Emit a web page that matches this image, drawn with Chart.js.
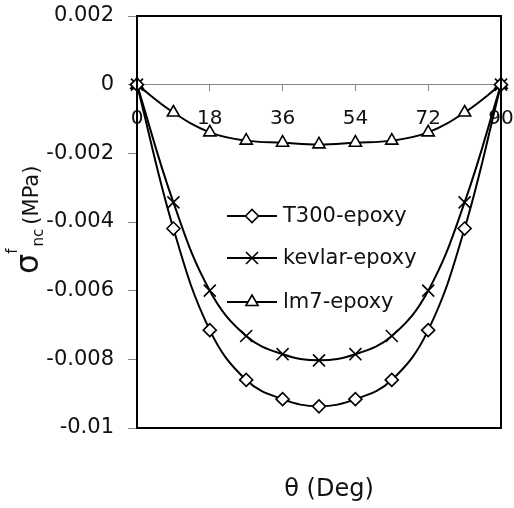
<!DOCTYPE html>
<html>
<head>
<meta charset="utf-8">
<script src="https://cdn.jsdelivr.net/npm/chart.js@4/dist/chart.umd.min.js"></script>
<style>
  html, body { margin: 0; padding: 0; background: #fff; }
  #wrap { width: 514px; height: 508px; }
</style>
</head>
<body>
<div id="wrap"><canvas id="c" width="514" height="508"></canvas></div>
<script>
// Fibre orientation angle (degrees)
const degrees = [0, 9, 18, 27, 36, 45, 54, 63, 72, 81, 90];
// Normal stress sigma^f_nc (MPa) for each composite
const t300Epoxy   = [0, -0.00419, -0.00715, -0.0086, -0.00916, -0.00937, -0.00916, -0.0086, -0.00715, -0.00419, 0];
const kevlarEpoxy = [0, -0.00343, -0.006, -0.00732, -0.00785, -0.00803, -0.00785, -0.00732, -0.006, -0.00343, 0];
const lm7Epoxy    = [0, -0.00081, -0.00139, -0.00163, -0.00169, -0.00174, -0.00169, -0.00163, -0.00139, -0.00081, 0];

const seriesNames = ['T300-epoxy', 'kevlar-epoxy', 'lm7-epoxy'];
const xTickValues = [0, 18, 36, 54, 72, 90];
const yTickValues = [-0.01, -0.008, -0.006, -0.004, -0.002, 0, 0.002];
const yTickLabels = ['-0.01', '-0.008', '-0.006', '-0.004', '-0.002', '0', '0.002'];

const FONT = "'DejaVu Sans', sans-serif";

function pairs(ys) { return degrees.map((d, i) => ({ x: d, y: ys[i] })); }

function series(label, ys, style, radius) {
  return {
    label, data: pairs(ys),
    borderColor: '#000', borderWidth: 2,
    backgroundColor: '#fff',
    pointStyle: style, pointRadius: radius, pointBorderWidth: 1.6,
    pointBackgroundColor: '#fff', pointBorderColor: '#000',
    tension: 0.4,
    clip: false, fill: false
  };
}

// Tick labels may overhang the frame; keep them from shrinking the plot
function noOverhang(s) {
  s.paddingLeft = 0; s.paddingRight = 0; s.paddingTop = 0; s.paddingBottom = 0;
}

// Black frame round the plotting area
const frame = {
  id: 'frame',
  afterDatasetsDraw(chart) {
    const { ctx, chartArea: a } = chart;
    ctx.save();
    ctx.strokeStyle = '#000';
    ctx.lineWidth = 2;
    ctx.strokeRect(a.left, a.top, a.right - a.left, a.bottom - a.top);
    ctx.restore();
  }
};

// Legend drawn inside the plot: short line with the marker on it, then the name
const insideLegend = {
  id: 'insideLegend',
  afterDraw(chart) {
    const { ctx, chartArea: a } = chart;
    const x0 = a.left + 90, x1 = a.left + 140, tx = a.left + 146;
    const rows = [a.top + 200, a.top + 242, a.top + 286];
    ctx.save();
    chart.data.datasets.forEach((ds, i) => {
      const y = rows[i];
      ctx.strokeStyle = '#000';
      ctx.lineWidth = 2;
      ctx.beginPath(); ctx.moveTo(x0, y); ctx.lineTo(x1, y); ctx.stroke();
      ctx.fillStyle = '#fff';
      ctx.lineWidth = ds.pointBorderWidth;
      Chart.helpers.drawPoint(ctx, { pointStyle: ds.pointStyle, radius: ds.pointRadius, rotation: 0, borderWidth: ds.pointBorderWidth }, (x0 + x1) / 2, y);
      ctx.fillStyle = '#111';
      ctx.font = '21px ' + FONT;
      ctx.textBaseline = 'middle';
      ctx.textAlign = 'left';
      ctx.fillText(ds.label, tx, y + 1);
    });
    ctx.restore();
  }
};

// Axis titles: x title under the chart, y title rotated with super/subscripts
const axisTitles = {
  id: 'axisTitles',
  afterDraw(chart) {
    const { ctx, chartArea: a } = chart;
    ctx.save();
    ctx.fillStyle = '#111';
    ctx.textAlign = 'center';
    ctx.textBaseline = 'middle';
    ctx.font = '24px ' + FONT;
    ctx.fillText('θ (Deg)', (a.left + a.right) / 2 + 10, 490);

    ctx.translate(38, 274);
    ctx.rotate(-Math.PI / 2);
    ctx.textAlign = 'left';
    ctx.textBaseline = 'alphabetic';
    let u = 0;
    ctx.font = '32px ' + FONT;
    ctx.fillText('σ', u, 0);
    u += ctx.measureText('σ').width;
    ctx.font = '15px ' + FONT;
    ctx.fillText('f', u, -21);
    u += ctx.measureText('f').width + 2;
    ctx.fillText('nc', u, 5);
    u += ctx.measureText('nc').width + 4;
    ctx.font = '21px ' + FONT;
    ctx.fillText('(MPa)', u, 0);
    ctx.restore();
  }
};

new Chart(document.getElementById('c'), {
  type: 'line',
  data: {
    datasets: [
      series(seriesNames[0], t300Epoxy, 'rectRot', 6.5),
      series(seriesNames[1], kevlarEpoxy, 'crossRot', 8.5),
      series(seriesNames[2], lm7Epoxy, 'triangle', 7)
    ]
  },
  options: {
    responsive: false,
    animation: false,
    layout: { padding: { left: 0, top: 16, right: 13, bottom: 80 } },
    plugins: { legend: { display: false }, tooltip: { enabled: false } },
    scales: {
      x: {
        type: 'linear',
        position: { y: 0 },
        min: 0, max: 90,
        afterBuildTicks(s) { s.ticks = xTickValues.map(v => ({ value: v })); },
        afterFit: noOverhang,
        grid: { display: true, drawOnChartArea: false, drawTicks: true, tickLength: 6, color: '#888', lineWidth: 1 },
        border: { display: true, color: '#888', width: 1 },
        ticks: { color: '#111', font: { family: FONT, size: 20 }, padding: 16, maxRotation: 0, autoSkip: false }
      },
      y: {
        type: 'linear',
        min: -0.01, max: 0.002,
        afterBuildTicks(s) { s.ticks = yTickValues.map(v => ({ value: v })); },
        afterFit(s) { s.width = 137; noOverhang(s); },
        grid: { display: true, drawOnChartArea: false, drawTicks: true, tickLength: 9, color: '#888', lineWidth: 1 },
        border: { display: true, color: '#000', width: 2 },
        ticks: {
          color: '#111', font: { family: FONT, size: 21 }, padding: 14,
          callback(v, i) { return yTickLabels[i]; }
        }
      }
    }
  },
  plugins: [frame, insideLegend, axisTitles]
});
</script>
</body>
</html>
